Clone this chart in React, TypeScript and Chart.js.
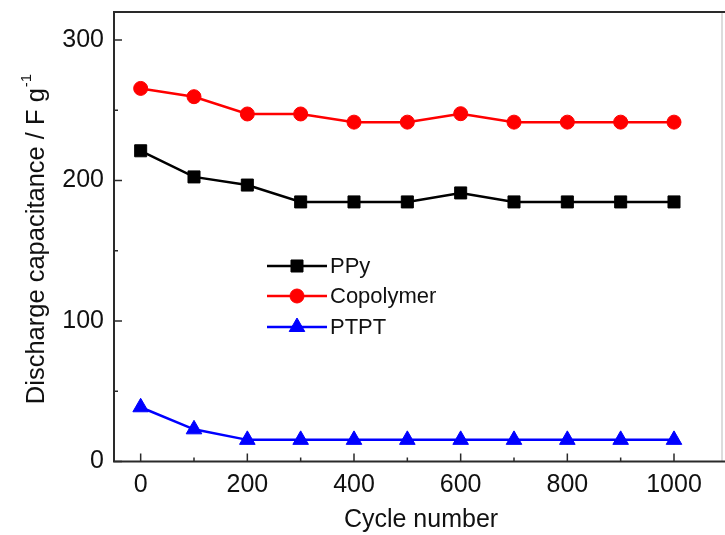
import React, { useEffect, useRef } from 'react';
import { Chart, registerables } from 'chart.js';

Chart.register(...registerables);

const cycles = [0, 100, 200, 300, 400, 500, 600, 700, 800, 900, 1000];
const ppy = [221.2, 202.6, 196.8, 184.8, 184.8, 184.8, 191.2, 184.8, 184.8, 184.8, 184.8];
const copolymer = [265.6, 259.7, 247.4, 247.4, 241.6, 241.6, 247.6, 241.6, 241.6, 241.6, 241.6];
const ptpt = [38.6, 22.9, 15.4, 15.4, 15.4, 15.4, 15.4, 15.4, 15.4, 15.4, 15.4];

const seriesNames = ['PPy', 'Copolymer', 'PTPT'];
const seriesColors = ['#000000', '#ff0000', '#0000ff'];
const seriesMarkers = ['rect', 'circle', 'triangle'];
const seriesRadius = [8.5, 7, 9];

const xMajorTicks = [0, 200, 400, 600, 800, 1000];
const xMinorTicks = [100, 300, 500, 700, 900];
const yMajorTicks = [0, 100, 200, 300];
const yMinorTicks = [50, 150, 250];

const xTitle = 'Cycle number';
const yTitle = 'Discharge capacitance / F g';
const yTitleSup = '-1';

const FONT = '"Liberation Sans", Arial, sans-serif';
const AXIS_COLOR = '#2a2a2a';

function drawMarker(ctx: CanvasRenderingContext2D, style: string, r: number, x: number, y: number) {
  ctx.beginPath();
  if (style === 'rect') {
    const s = r * Math.SQRT1_2;
    ctx.rect(x - s, y - s, 2 * s, 2 * s);
  } else if (style === 'circle') {
    ctx.arc(x, y, r, 0, Math.PI * 2);
  } else {
    ctx.moveTo(x, y - r);
    ctx.lineTo(x + Math.sin((2 * Math.PI) / 3) * r, y - Math.cos((2 * Math.PI) / 3) * r);
    ctx.lineTo(x + Math.sin((4 * Math.PI) / 3) * r, y - Math.cos((4 * Math.PI) / 3) * r);
    ctx.closePath();
  }
  ctx.fill();
  ctx.stroke();
}

const decorPlugin = {
  id: 'decor',
  afterDraw(chart: any) {
    const ctx = chart.ctx;
    const a = chart.chartArea;
    const xs = chart.scales.x;
    const ys = chart.scales.y;
    ctx.save();
    // right border (faint, cropped in the original)
    ctx.strokeStyle = '#d0d0d0';
    ctx.lineWidth = 1.5;
    ctx.beginPath();
    ctx.moveTo(a.right, a.top);
    ctx.lineTo(a.right, a.bottom);
    ctx.stroke();
    // left, top, bottom
    ctx.strokeStyle = AXIS_COLOR;
    ctx.lineWidth = 2;
    ctx.beginPath();
    ctx.moveTo(a.right + 3, a.top);
    ctx.lineTo(a.left, a.top);
    ctx.lineTo(a.left, a.bottom);
    ctx.lineTo(a.right + 3, a.bottom);
    ctx.stroke();
    // ticks (inward)
    ctx.lineWidth = 1.5;
    ctx.beginPath();
    xMajorTicks.forEach((v) => {
      const px = xs.getPixelForValue(v);
      ctx.moveTo(px, a.bottom);
      ctx.lineTo(px, a.bottom - 8);
    });
    xMinorTicks.forEach((v) => {
      const px = xs.getPixelForValue(v);
      ctx.moveTo(px, a.bottom);
      ctx.lineTo(px, a.bottom - 4);
    });
    yMajorTicks.forEach((v) => {
      const py = ys.getPixelForValue(v);
      ctx.moveTo(a.left, py);
      ctx.lineTo(a.left + 8, py);
    });
    yMinorTicks.forEach((v) => {
      const py = ys.getPixelForValue(v);
      ctx.moveTo(a.left, py);
      ctx.lineTo(a.left + 4, py);
    });
    ctx.stroke();

    // x title
    ctx.fillStyle = '#111';
    ctx.font = `25px ${FONT}`;
    ctx.textAlign = 'center';
    ctx.textBaseline = 'alphabetic';
    ctx.fillText(xTitle, 421, 527);

    // y title (rotated) with superscript
    ctx.save();
    ctx.translate(44, 0);
    ctx.rotate(-Math.PI / 2);
    ctx.font = `25.5px ${FONT}`;
    const mainW = ctx.measureText(yTitle).width;
    ctx.font = `15px ${FONT}`;
    const supW = ctx.measureText(yTitleSup).width;
    const total = mainW + supW + 1;
    const startX = -(239 + total / 2);
    ctx.textAlign = 'left';
    ctx.font = `25.5px ${FONT}`;
    ctx.fillText(yTitle, startX, 0);
    ctx.font = `15px ${FONT}`;
    ctx.fillText(yTitleSup, startX + mainW + 1, -13);
    ctx.restore();

    // legend
    const rows = [266, 296, 327];
    ctx.font = `22px ${FONT}`;
    ctx.textAlign = 'left';
    ctx.textBaseline = 'middle';
    chart.data.datasets.forEach((ds: any, i: number) => {
      const y = rows[i];
      ctx.strokeStyle = ds.borderColor;
      ctx.lineWidth = ds.borderWidth;
      ctx.beginPath();
      ctx.moveTo(267, y);
      ctx.lineTo(327, y);
      ctx.stroke();
      ctx.fillStyle = ds.pointBackgroundColor;
      ctx.strokeStyle = ds.pointBorderColor;
      ctx.lineWidth = 1;
      drawMarker(ctx, ds.pointStyle, ds.pointRadius, 297, y);
      ctx.fillStyle = '#111';
      ctx.fillText(ds.label, 330, y + 1);
    });
    ctx.restore();
  },
};

export default function App() {
  const ref = useRef<HTMLCanvasElement>(null);
  useEffect(() => {
    if (!ref.current) return;
    const all = [ppy, copolymer, ptpt];
    const chart = new Chart(ref.current, {
      type: 'line',
      data: {
        datasets: all.map((vals, i) => ({
          label: seriesNames[i],
          data: cycles.map((c, j) => ({ x: c, y: vals[j] })),
          borderColor: seriesColors[i],
          backgroundColor: seriesColors[i],
          pointBackgroundColor: seriesColors[i],
          pointBorderColor: seriesColors[i],
          pointStyle: seriesMarkers[i],
          pointRadius: seriesRadius[i],
          pointBorderWidth: 1,
          borderWidth: 2.5,
          tension: 0,
        })),
      },
      options: {
        animation: false,
        responsive: false,
        devicePixelRatio: 1,
        layout: { autoPadding: false, padding: { top: 12, right: 3, left: 0, bottom: 0 } },
        plugins: { legend: { display: false }, tooltip: { enabled: false } },
        scales: {
          x: {
            type: 'linear',
            min: -50,
            max: 1090,
            grid: { display: false, drawTicks: false },
            border: { display: false },
            afterBuildTicks: (s: any) => {
              s.ticks = xMajorTicks.map((v) => ({ value: v }));
            },
            afterFit: (s: any) => {
              s.height = 73.5;
              s.paddingLeft = 0;
              s.paddingRight = 0;
              s.paddingTop = 0;
              s.paddingBottom = 0;
            },
            ticks: {
              padding: 9,
              color: '#111',
              font: { family: FONT, size: 25 },
              maxRotation: 0,
              autoSkip: false,
              callback: (v: any) => String(v),
            },
          },
          y: {
            type: 'linear',
            min: 0,
            max: 320,
            grid: { display: false, drawTicks: false },
            border: { display: false },
            afterBuildTicks: (s: any) => {
              s.ticks = yMajorTicks.map((v) => ({ value: v }));
            },
            afterFit: (s: any) => {
              s.width = 114;
              s.paddingLeft = 0;
              s.paddingRight = 0;
              s.paddingTop = 0;
              s.paddingBottom = 0;
            },
            ticks: {
              padding: 10,
              color: '#111',
              font: { family: FONT, size: 25 },
              autoSkip: false,
              callback: (v: any) => String(v),
            },
          },
        },
      },
      plugins: [decorPlugin],
    });
    return () => chart.destroy();
  }, []);
  return (
    <div style={{ position: 'fixed', left: 0, top: 0, width: 725, height: 535, background: '#fff' }}>
      <canvas ref={ref} width={725} height={535} style={{ width: 725, height: 535, display: 'block' }} />
    </div>
  );
}
